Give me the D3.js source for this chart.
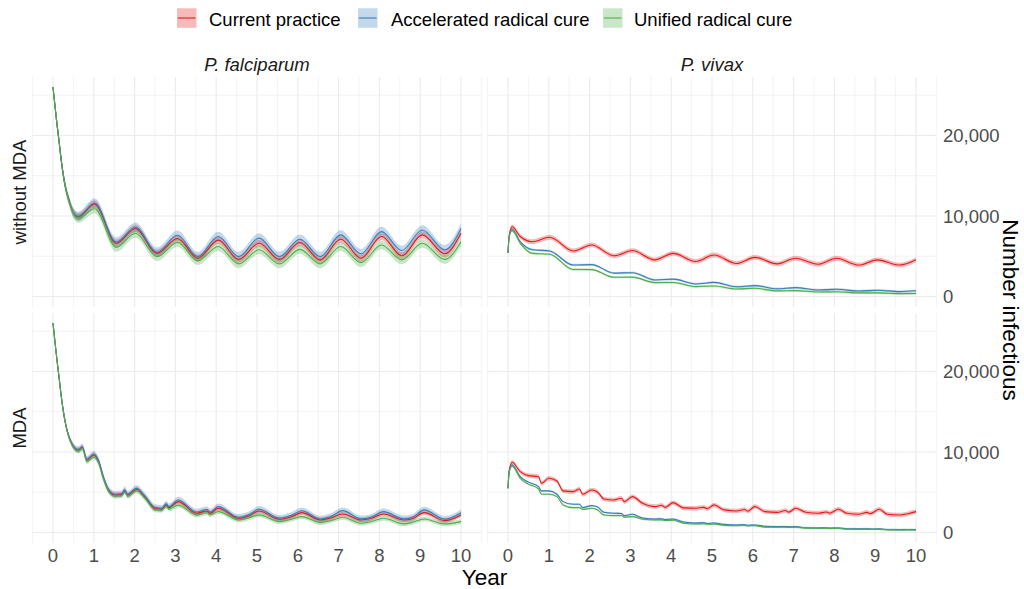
<!DOCTYPE html>
<html><head><meta charset="utf-8">
<script src="https://cdn.jsdelivr.net/npm/d3@7"></script>
<style>body{margin:0;background:#fff} svg{display:block}</style>
</head><body>
<script>
// ---- categories / labels ----
const seriesNames = ["Current practice", "Accelerated radical cure", "Unified radical cure"];
const seriesColors = ["#E41A1C", "#377EB8", "#4DAF4A"];
const speciesLabels = ["P. falciparum", "P. vivax"];
const mdaLabels = ["without MDA", "MDA"];
const xTicks = [0, 1, 2, 3, 4, 5, 6, 7, 8, 9, 10];
const xMinor = [-0.5, 0.5, 1.5, 2.5, 3.5, 4.5, 5.5, 6.5, 7.5, 8.5, 9.5, 10.5];
const yTicks = [0, 10000, 20000];
const yTickLabels = ["0", "10,000", "20,000"];
const yMinor = [5000, 15000, 25000];

// ---- P. falciparum, without MDA ----
const timeFalcNoMda = [0, 0.05, 0.1, 0.15, 0.2, 0.3, 0.4, 0.5, 0.62, 1.02, 1.55, 2.02, 2.55, 3.05, 3.55, 4.05, 4.55, 5.05, 5.55, 6.05, 6.55, 7.05, 7.55, 8.05, 8.55, 9.05, 9.6, 10];
const falcNoMdaCurrent = [26000, 23600, 21300, 19200, 17000, 13700, 11800, 10400, 9900, 11500, 6600, 8450, 5350, 7200, 4750, 7000, 4600, 6600, 4600, 6700, 4550, 7100, 4750, 7450, 5050, 7650, 5300, 7850];
const falcNoMdaAccel = [26000, 23600, 21300, 19200, 17000, 13700, 11800, 10400, 9950, 11600, 6750, 8600, 5500, 7600, 4950, 7450, 4950, 7250, 4950, 7100, 4950, 7650, 5300, 8050, 5700, 8250, 5800, 8450];
const falcNoMdaUnified = [26000, 23600, 21300, 19200, 17000, 13700, 11700, 10300, 9700, 10900, 6100, 7850, 4950, 6700, 4450, 6200, 4050, 5800, 4050, 5850, 4050, 6200, 4200, 6400, 4550, 6600, 4600, 6800];
const falcNoMdaSpread = [450, 600, 550];

// ---- P. vivax, without MDA ----
const timeVivNoMda = [0, 0.03, 0.1, 0.3, 0.6, 1.02, 1.6, 2.05, 2.6, 3.05, 3.6, 4.05, 4.6, 5.05, 5.6, 6.05, 6.6, 7.05, 7.6, 8.05, 8.6, 9.05, 9.6, 10];
const vivNoMdaCurrent = [5400, 7600, 8650, 7450, 6800, 7350, 5650, 6400, 5050, 5700, 4550, 5350, 4350, 5150, 4100, 4850, 4050, 4750, 4000, 4750, 3900, 4550, 3900, 4550];
const vivNoMdaAccel = [5400, 7500, 8350, 6800, 5800, 5650, 3900, 3950, 2900, 2950, 2050, 2150, 1550, 1750, 1200, 1350, 950, 1100, 800, 900, 680, 780, 600, 700];
const vivNoMdaUnified = [5400, 7400, 8180, 6600, 5350, 5250, 3350, 3330, 2380, 2400, 1720, 1740, 1220, 1300, 930, 1010, 690, 730, 560, 580, 440, 450, 350, 360];
const vivNoMdaSpread = [300, 150, 150];

// ---- P. falciparum, MDA ----
const timeFalcMda = [0, 0.05, 0.1, 0.15, 0.2, 0.3, 0.42, 0.62, 0.72, 0.83, 1.0, 1.12, 1.23, 1.36, 1.52, 1.68, 1.76, 1.83, 2.05, 2.25, 2.5, 2.66, 2.78, 2.84, 3.07, 3.52, 3.77, 3.85, 4.05, 4.55, 4.8, 5.05, 5.55, 5.85, 6.1, 6.55, 6.8, 7.1, 7.55, 7.8, 8.1, 8.6, 8.8, 9.1, 9.6, 10];
const falcMdaCurrent = [26000, 23600, 21300, 19200, 17000, 13700, 11500, 10250, 10580, 9000, 9630, 8800, 6930, 5280, 4660, 4700, 5200, 4660, 5360, 4450, 3000, 2900, 3420, 3100, 3830, 2380, 2670, 2400, 3000, 1760, 2050, 2670, 1640, 1970, 2460, 1550, 1800, 2300, 1550, 1760, 2300, 1550, 1700, 2460, 1470, 2180];
const falcMdaAccel = [26000, 23600, 21300, 19200, 17000, 13700, 11500, 10300, 10650, 9100, 9750, 8900, 7000, 5350, 4750, 4800, 5300, 4750, 5500, 4550, 3100, 3000, 3550, 3200, 4040, 2550, 2850, 2550, 3210, 1880, 2200, 2880, 1780, 2150, 2700, 1680, 1950, 2710, 1700, 1900, 2590, 1700, 1850, 2800, 1650, 2460];
const falcMdaUnified = [26000, 23600, 21300, 19200, 17000, 13700, 11400, 10100, 10400, 8800, 9350, 8550, 6700, 5100, 4500, 4550, 5000, 4500, 5150, 4250, 2800, 2750, 3200, 2900, 3400, 2150, 2450, 2200, 2590, 1560, 1800, 2180, 1350, 1650, 1970, 1220, 1450, 1880, 1140, 1350, 1760, 1060, 1250, 1680, 1060, 1350];
const falcMdaSpread = [300, 400, 300];

// ---- P. vivax, MDA ----
const timeVivMda = [0, 0.03, 0.1, 0.3, 0.5, 0.75, 0.82, 1.0, 1.2, 1.35, 1.6, 1.75, 1.83, 2.05, 2.2, 2.35, 2.6, 2.78, 2.85, 3.05, 3.3, 3.6, 3.77, 3.85, 4.05, 4.3, 4.6, 4.8, 4.88, 5.05, 5.3, 5.6, 5.8, 5.88, 6.05, 6.3, 6.6, 6.8, 6.88, 7.05, 7.3, 7.6, 7.8, 7.88, 8.1, 8.3, 8.6, 8.8, 8.88, 9.1, 9.3, 9.6, 9.8, 10];
const vivMdaCurrent = [5490, 7700, 8720, 7560, 7060, 6930, 6110, 6730, 6400, 5160, 5070, 5400, 4740, 5280, 5000, 4160, 4040, 4250, 3830, 4450, 3620, 3210, 3380, 3120, 3700, 3050, 3000, 3120, 2950, 3420, 2800, 2670, 2850, 2640, 3210, 2590, 2500, 2720, 2520, 3000, 2500, 2380, 2540, 2400, 2880, 2380, 2260, 2500, 2340, 2880, 2260, 2170, 2330, 2590];
const vivMdaAccel = [5490, 7600, 8390, 6940, 6250, 5690, 5160, 5160, 4740, 3830, 3500, 3500, 3085, 3330, 3150, 2500, 2380, 2350, 2090, 2260, 1800, 1680, 1700, 1600, 1680, 1300, 1180, 1200, 1120, 1180, 1000, 930, 950, 900, 930, 760, 725, 740, 700, 725, 580, 560, 570, 540, 560, 460, 440, 450, 430, 440, 370, 355, 360, 355];
const vivMdaUnified = [5490, 7500, 8220, 6730, 6000, 5400, 4740, 4740, 4450, 3420, 3085, 3085, 2850, 3000, 2800, 2170, 2090, 2100, 1900, 1970, 1650, 1555, 1560, 1480, 1510, 1150, 1060, 1080, 1020, 1060, 880, 850, 860, 820, 850, 660, 640, 650, 620, 640, 530, 520, 525, 500, 520, 400, 395, 400, 385, 395, 320, 310, 315, 310];
const vivMdaSpread = [280, 120, 120];

// ---- panels built from the arrays ----
const panels = [
  {row: 0, col: 0, t: timeFalcNoMda, vals: [falcNoMdaCurrent, falcNoMdaAccel, falcNoMdaUnified], spread: falcNoMdaSpread},
  {row: 0, col: 1, t: timeVivNoMda, vals: [vivNoMdaCurrent, vivNoMdaAccel, vivNoMdaUnified], spread: vivNoMdaSpread},
  {row: 1, col: 0, t: timeFalcMda, vals: [falcMdaCurrent, falcMdaAccel, falcMdaUnified], spread: falcMdaSpread},
  {row: 1, col: 1, t: timeVivMda, vals: [vivMdaCurrent, vivMdaAccel, vivMdaUnified], spread: vivMdaSpread}
];

const W = 1024, H = 589;
const FONT = "'Liberation Sans', Arial, Helvetica, sans-serif";
const colX = [[32.6, 481.4], [487.6, 936.4]];
const rowY = [[307, 77], [543, 313]];
const xDomain = [-0.5, 10.5];
const yDomain = [-1310, 27260];

const svg = d3.select("body").append("svg").attr("width", W).attr("height", H)
  .style("font-family", FONT);

const xScales = colX.map(r => d3.scaleLinear().domain(xDomain).range(r));
const yScales = rowY.map(r => d3.scaleLinear().domain(yDomain).range(r));

// gridlines
for (let r = 0; r < 2; r++) {
  for (let c = 0; c < 2; c++) {
    const xs = xScales[c], ys = yScales[r];
    const g = svg.append("g");
    const [x0, x1] = colX[c], [yb, yt] = rowY[r];
    yMinor.forEach(v => g.append("line").attr("x1", x0).attr("x2", x1)
      .attr("y1", ys(v)).attr("y2", ys(v)).attr("stroke", "#EBEBEB").attr("stroke-width", 0.6));
    xMinor.forEach(v => g.append("line").attr("x1", xs(v)).attr("x2", xs(v))
      .attr("y1", yb).attr("y2", yt).attr("stroke", "#EBEBEB").attr("stroke-width", 0.6));
    yTicks.forEach(v => g.append("line").attr("x1", x0).attr("x2", x1)
      .attr("y1", ys(v)).attr("y2", ys(v)).attr("stroke", "#EBEBEB").attr("stroke-width", 1.1));
    xTicks.forEach(v => g.append("line").attr("x1", xs(v)).attr("x2", xs(v))
      .attr("y1", yb).attr("y2", yt).attr("stroke", "#EBEBEB").attr("stroke-width", 1.1));
  }
}

// data
panels.forEach(p => {
  const xs = xScales[p.col], ys = yScales[p.row];
  const g = svg.append("g");
  const area = d3.area().curve(d3.curveMonotoneX)
    .x(d => xs(d.t)).y0(d => ys(d.v - d.s)).y1(d => ys(d.v + d.s));
  const line = d3.line().curve(d3.curveMonotoneX).x(d => xs(d.t)).y(d => ys(d.v));
  const data = p.vals.map((arr, i) => arr.map((v, j) => ({t: p.t[j], v: v, s: j === 0 ? 80 : p.spread[i]})));
  data.forEach((d, i) => g.append("path").attr("d", area(d))
    .attr("fill", seriesColors[i]).attr("fill-opacity", 0.3).attr("stroke", "none"));
  data.forEach((d, i) => g.append("path").attr("d", line(d))
    .attr("fill", "none").attr("stroke", seriesColors[i]).attr("stroke-width", 1.1));
});

// x axis tick labels (bottom row)
for (let c = 0; c < 2; c++) {
  xTicks.forEach(v => svg.append("text").attr("x", xScales[c](v)).attr("y", 562.3)
    .attr("text-anchor", "middle").attr("font-size", 18.5).attr("fill", "#4D4D4D").text(v));
}
// y axis tick labels on right
for (let r = 0; r < 2; r++) {
  yTicks.forEach((v, i) => svg.append("text").attr("x", 943).attr("y", yScales[r](v))
    .attr("dy", "0.36em").attr("font-size", 18.5).attr("fill", "#4D4D4D").text(yTickLabels[i]));
}
// column strips
speciesLabels.forEach((s, c) => svg.append("text")
  .attr("x", (colX[c][0] + colX[c][1]) / 2).attr("y", 71)
  .attr("text-anchor", "middle").attr("font-size", 18.5).attr("font-style", "italic")
  .attr("fill", "#1A1A1A").text(s));
// row strips (left)
mdaLabels.forEach((s, r) => {
  const cy = (rowY[r][0] + rowY[r][1]) / 2;
  svg.append("text").attr("transform", `translate(26,${cy}) rotate(-90)`)
    .attr("text-anchor", "middle").attr("font-size", 18.5).attr("fill", "#1A1A1A").text(s);
});
// axis titles
svg.append("text").attr("x", (colX[0][0] + colX[1][1]) / 2).attr("y", 584.5)
  .attr("text-anchor", "middle").attr("font-size", 22.5).attr("fill", "#000").text("Year");
svg.append("text").attr("transform", `translate(1003,${(rowY[0][1] + rowY[1][0]) / 2}) rotate(90)`)
  .attr("text-anchor", "middle").attr("font-size", 22.5).attr("fill", "#000").text("Number infectious");

// legend
const legendKeyX = [177, 358, 603];
const legendTextX = [209, 391, 634];
seriesNames.forEach((n, i) => {
  const g = svg.append("g");
  g.append("rect").attr("x", legendKeyX[i]).attr("y", 8.3).attr("width", 19.5).attr("height", 19.5)
    .attr("fill", seriesColors[i]).attr("fill-opacity", 0.3);
  g.append("line").attr("x1", legendKeyX[i] + 1).attr("x2", legendKeyX[i] + 18.5)
    .attr("y1", 18).attr("y2", 18).attr("stroke", seriesColors[i]).attr("stroke-width", 1.1);
  g.append("text").attr("x", legendTextX[i]).attr("y", 25.5).attr("font-size", 18.5)
    .attr("fill", "#000").text(n);
});
</script>
</body></html>
